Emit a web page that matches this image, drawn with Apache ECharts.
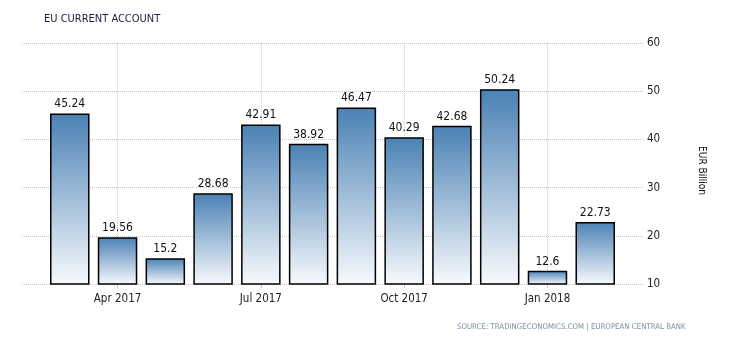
<!DOCTYPE html>
<html><head><meta charset="utf-8">
<script src="https://cdn.jsdelivr.net/npm/echarts@6/dist/echarts.min.js"></script>
<style>html,body{margin:0;padding:0;background:#fff}#c{width:730px;height:340px}</style>
</head><body><div id="c"></div>
<script>
const categories = ['Feb 2017','Mar 2017','Apr 2017','May 2017','Jun 2017','Jul 2017','Aug 2017','Sep 2017','Oct 2017','Nov 2017','Dec 2017','Jan 2018','Feb 2018','Mar 2018'];
const months = ['Mar 2017','Apr 2017','May 2017','Jun 2017','Jul 2017','Aug 2017','Sep 2017','Oct 2017','Nov 2017','Dec 2017','Jan 2018','Feb 2018'];
const values = [45.24,19.56,15.2,28.68,42.91,38.92,46.47,40.29,42.68,50.24,12.6,22.73];
const tickLabels = ['Apr 2017','Jul 2017','Oct 2017','Jan 2018'];
const yMin = 10, yMax = 60, yStep = 10;

const FONT = 'DejaVu Sans Condensed, DejaVu Sans, Liberation Sans';
const chart = echarts.init(document.getElementById('c'), null, {renderer:'canvas'});
const showAt = (i, v) => tickLabels.indexOf(categories[i]) >= 0;
const data = months.map((m, i) => [categories.indexOf(m), values[i]]);

chart.setOption({
  animation:false,
  backgroundColor:'#fff',
  title:[
    {text:'EU CURRENT ACCOUNT', left:39, top:9, textStyle:{fontFamily:FONT, fontSize:11, fontWeight:'normal', color:'#1c1c3c'}},
    {text:'SOURCE: TRADINGECONOMICS.COM | EUROPEAN CENTRAL BANK', left:452, top:318, textStyle:{fontFamily:FONT, fontSize:7.8, fontWeight:'normal', color:'#7d8ea6'}}
  ],
  grid:{left:22, right:87, top:43, bottom:56},
  xAxis:{
    type:'category', data:categories, boundaryGap:false,
    axisLine:{show:false},
    axisTick:{show:true, interval:showAt, length:4, lineStyle:{color:'#c8c8c8'}},
    axisLabel:{interval:showAt, margin:9, fontFamily:FONT, fontSize:11.5, color:'#222'},
    splitLine:{show:true, interval:showAt, lineStyle:{type:'dotted', color:'#c8c8c8'}}
  },
  yAxis:{
    type:'value', position:'right', min:yMin, max:yMax, interval:yStep,
    name:'EUR Billion', nameLocation:'middle', nameRotate:-90, nameGap:54,
    nameTextStyle:{fontFamily:FONT, fontSize:10, color:'#111', padding:[0,0,0,14]},
    axisLine:{show:false}, axisTick:{show:false},
    axisLabel:{margin:4, fontFamily:FONT, fontSize:11.5, color:'#222'},
    splitLine:{lineStyle:{type:'dotted', color:'#c8c8c8'}}
  },
  series:[{
    type:'custom',
    data:data,
    encode:{x:0, y:1},
    renderItem:function(params, api){
      const x = api.value(0), v = api.value(1);
      const top = api.coord([x, v]);
      const base = api.coord([x, yMin]);
      const w = 38;
      return {type:'group', children:[
        {type:'rect', shape:{x:top[0]-w/2, y:top[1], width:w, height:base[1]-top[1]},
         style:{fill:new echarts.graphic.LinearGradient(0,0,0,1,[{offset:0,color:'#4a81b4'},{offset:1,color:'#f8fafd'}]), stroke:'#000', lineWidth:1.5}},
        {type:'text', x:top[0], y:top[1]-10,
         style:{text:String(v), textAlign:'center', textVerticalAlign:'middle', fontFamily:FONT, fontSize:12, fill:'#111'}}
      ]};
    }
  }]
});
</script></body></html>
